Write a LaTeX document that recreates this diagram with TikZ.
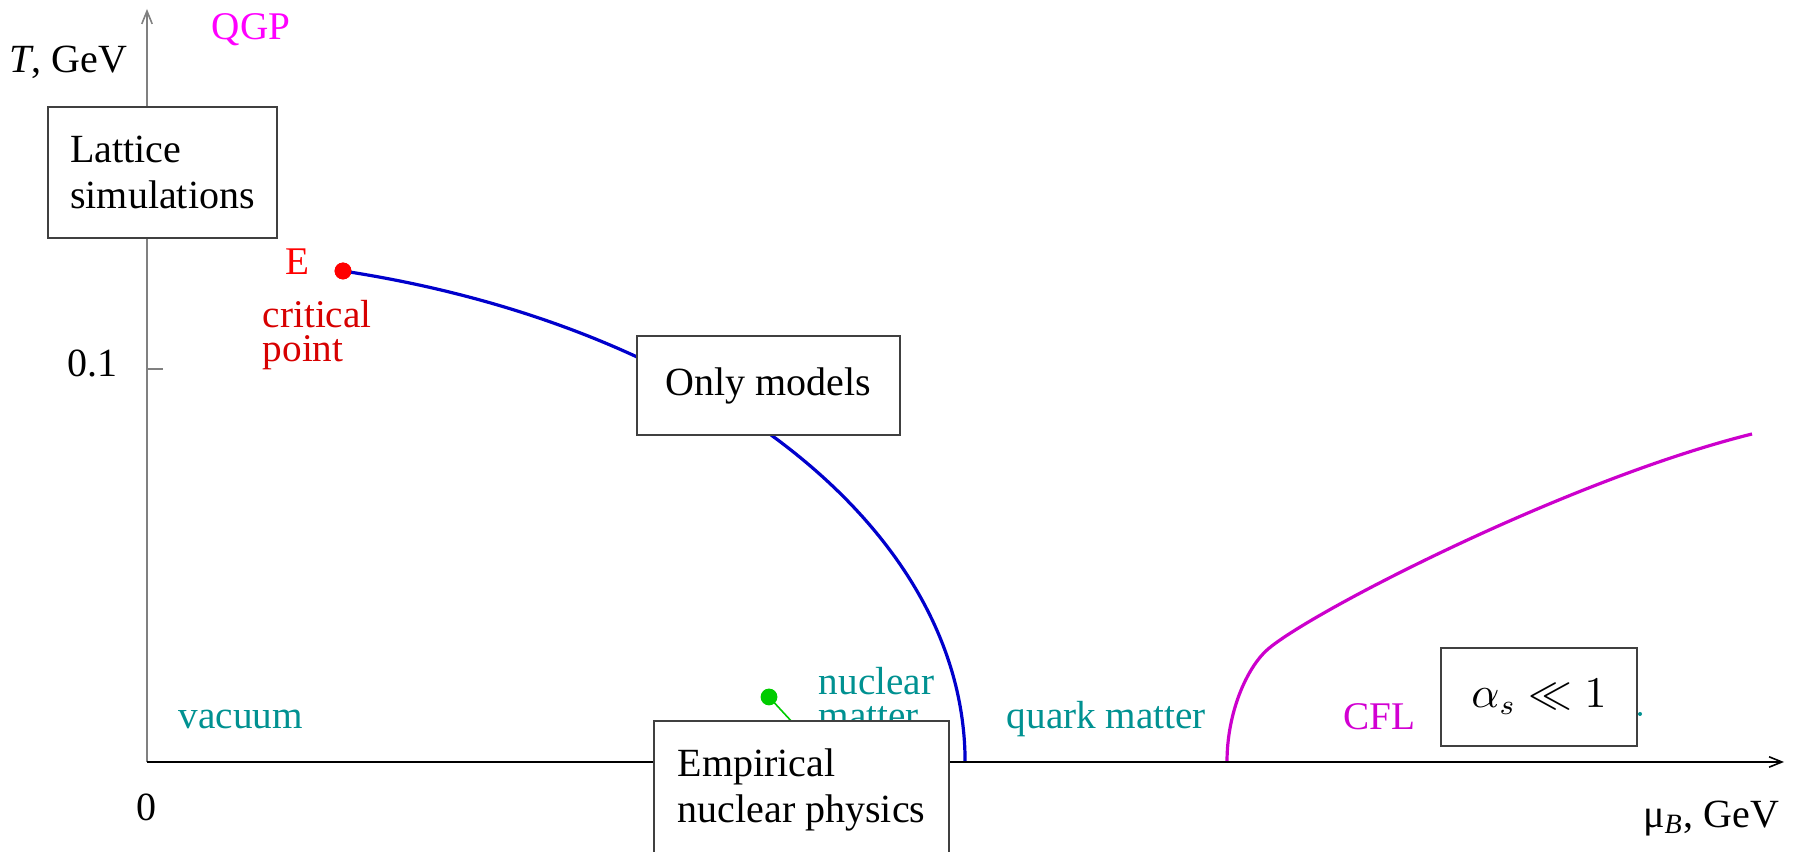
\documentclass[tikz,border=0pt]{standalone}
\usepackage{fontspec}
\setmainfont{Liberation Serif}
\usetikzlibrary{arrows.meta, positioning}

\definecolor{qgpmag}{RGB}{255,0,255}
\definecolor{cflmag}{RGB}{210,0,210}
\definecolor{linemag}{RGB}{204,0,204}
\definecolor{lineblue}{RGB}{0,0,204}
\definecolor{regteal}{RGB}{0,145,145}
\definecolor{critred}{RGB}{215,0,0}
\definecolor{nucgreen}{RGB}{0,204,0}

\begin{document}
\begin{tikzpicture}[
    x=0.25pt, y=0.25pt,
    box/.style={draw=black!75, fill=white, line width=0.4pt, align=left,
                inner sep=0pt, font=\fontsize{10}{11.4}\selectfont},
    lbl/.style={inner sep=0pt, align=left, font=\fontsize{9.8}{8.4}\selectfont},
    axis/.style={line width=0.4pt, -{Straight Barb[length=3.2pt, width=2.6pt]}},
    phase/.style={line width=0.8pt},
    dot/.style={circle, fill, inner sep=0pt, minimum size=4.2pt}
]
\clip (-147,-90) rectangle (1652,762);

% phase boundaries
\node[dot, red] (Ept) at (196,491) {};
\draw[phase, lineblue] (Ept.center)
    arc[start angle=76.14, end angle=0, x radius=818, y radius=505.7] coordinate (mu0);
\coordinate (mu1) at (1080,0);
\draw[phase, linemag] (mu1) .. controls (1080,50) and (1100,94) .. (1120,112)
    .. controls (1160,148) and (1420,282) .. (1605,328);

% axes
\coordinate (O) at (0,0);
\draw[axis, black!50] (O) -- (0,753);
\draw[axis] (O) -- (1637,0);
\draw[black!50, line width=0.4pt] (0,393) -- (16,393);

\node[anchor=base east, inner sep=0pt] (tlab)  at (-19,689)  {\textit{T}, GeV};
\node[anchor=base east, inner sep=0pt] (tick)  at (-29,385)  {0.1};
\node[inner sep=0pt]                   (zero)  at (0,-45)    {0};
\node[anchor=base east, inner sep=0pt] (mulab) at (1633,-66) {μ\textsubscript{\textit{B}}, GeV};

% regions
\node[lbl, qgpmag]                      (qgp)  at (104,732) {QGP};
\node[lbl, red]                         (Elab) at (150,500) {E};
\node[lbl, critred, anchor=west]        (crit) at (115,427) {critical\\point};
\node[lbl, regteal, anchor=base west]   (vac)  at (31,33)   {vacuum};
\node[lbl, regteal, anchor=base west]   (qm)   at (859,33)  {quark matter};
\node[lbl, cflmag, anchor=base west]    (cfl)  at (1196,32) {CFL};
\node[lbl, regteal, anchor=west]        (nucl) at (671,64)  {nuclear\\matter};
\fill[regteal] (1493,48) circle (2);

\node[dot, red] at (Ept) {};
\coordinate (nucax) at (682,0);
\draw[nucgreen, line width=0.4pt] (622,65) -- (nucax);
\node[dot, nucgreen] (nucpt) at (622,65) {};

% methods
\node[box, minimum width=57.25pt, minimum height=32.75pt] (lattice) at (15.5,589.5) {Lattice\\simulations};
\node[box, minimum width=65.75pt, minimum height=24.75pt] (models)  at (621.5,376.5) {Only models};
\node[box, minimum width=73.75pt, minimum height=34.5pt]  (empir)   at (654.5,-28) {Empirical\\nuclear physics};
\node[box, minimum width=49pt, minimum height=24.5pt,
      font=\fontsize{10.7}{12}\selectfont]                (weak)    at (1392,65) {$\alpha_s \ll 1$};
\end{tikzpicture}
\end{document}
